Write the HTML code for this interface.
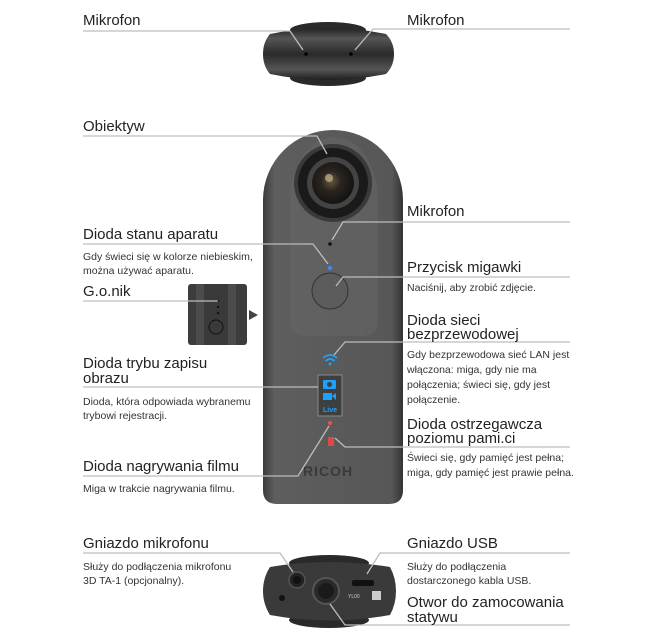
<!DOCTYPE html>
<html><head><meta charset="utf-8"><style>
html,body{margin:0;padding:0;background:#fff;}
svg{display:block;}
.h{font-family:"Liberation Sans",sans-serif;font-size:15px;fill:#222;}
.d{font-family:"Liberation Sans",sans-serif;font-size:10.5px;fill:#333;}
.l{stroke:#bdbdbd;stroke-width:1.3;fill:none;}
</style></head><body>
<svg width="650" height="638" viewBox="0 0 650 638" xmlns="http://www.w3.org/2000/svg">
<defs>
<linearGradient id="body" x1="0" x2="1" y1="0" y2="0">
<stop offset="0" stop-color="#3a3a3a"/><stop offset="0.08" stop-color="#5e5e5e"/><stop offset="0.5" stop-color="#5a5a5a"/><stop offset="0.92" stop-color="#575757"/><stop offset="1" stop-color="#333"/></linearGradient>
<linearGradient id="top" x1="0" x2="0" y1="0" y2="1">
<stop offset="0" stop-color="#222"/><stop offset="0.2" stop-color="#555"/><stop offset="0.5" stop-color="#2a2a2a"/><stop offset="0.8" stop-color="#555"/><stop offset="1" stop-color="#1e1e1e"/></linearGradient>
<radialGradient id="lens" cx="0.45" cy="0.45" r="0.6"><stop offset="0" stop-color="#6a5a40"/><stop offset="0.4" stop-color="#2a2520"/><stop offset="1" stop-color="#111"/></radialGradient>
</defs>

<ellipse cx="328" cy="30" rx="38" ry="8" fill="#2a2a2a"/>
<ellipse cx="328" cy="78" rx="38" ry="8" fill="#2a2a2a"/>
<path d="M270 34 Q328 22 386 34 Q394 42 394 54 Q394 66 386 74 Q328 86 270 74 Q263 66 263 54 Q263 42 270 34Z" fill="url(#top)"/>
<circle cx="306" cy="54" r="1.8" fill="#000"/><circle cx="351" cy="54" r="1.8" fill="#000"/>

<path d="M263 200 A70 70 0 0 1 403 200 L403 490 Q403 504 389 504 L277 504 Q263 504 263 490Z" fill="url(#body)"/>
<path d="M290 200 A42 60 0 0 1 378 200 L378 320 Q378 336 362 336 L306 336 Q290 336 290 320Z" fill="#666" opacity="0.55"/>
<circle cx="333" cy="183" r="39" fill="#3a3a3a"/>
<circle cx="333" cy="183" r="35" fill="#1a1a1a"/>
<circle cx="333" cy="183" r="26" fill="#444"/>
<circle cx="333" cy="183" r="21" fill="url(#lens)"/>
<circle cx="329" cy="178" r="4" fill="#c9b68a" opacity="0.7"/>
<circle cx="330" cy="244" r="1.8" fill="#111"/>
<circle cx="330" cy="268" r="2.2" fill="#2f8fff"/>
<circle cx="330" cy="291" r="18" fill="#5c5c5c" stroke="#333" stroke-width="1"/>
<path d="M323 358 Q330 352 337 358 M325.5 361 Q330 357 334.5 361" stroke="#1da1ff" stroke-width="1.6" fill="none"/>
<circle cx="330" cy="364" r="1.4" fill="#1da1ff"/>
<rect x="318" y="375" width="24" height="41" fill="#3f3f3f" stroke="#888" stroke-width="1"/>
<rect x="323" y="380" width="13" height="9" rx="1" fill="#1da1ff"/><circle cx="329.5" cy="384.5" r="2.5" fill="#3f3f3f"/>
<rect x="323" y="393" width="9" height="7" fill="#1da1ff"/><polygon points="332,396 336,393 336,400" fill="#1da1ff"/>
<text x="330" y="412" text-anchor="middle" font-family="Liberation Sans" font-weight="bold" font-size="7" fill="#1da1ff">Live</text>
<circle cx="330" cy="423" r="2.2" fill="#e45050"/>
<rect x="328" y="437" width="6" height="9" fill="#e04848"/>
<text x="328" y="476" text-anchor="middle" font-family="Liberation Sans" font-weight="bold" font-size="14" fill="#3a3a3a" letter-spacing="1">RICOH</text>

<rect x="188" y="284" width="59" height="61" rx="3" fill="#3c3c3c"/>
<rect x="196" y="284" width="40" height="61" fill="#4c4c4c"/>
<rect x="204" y="284" width="24" height="61" fill="#3a3a3a"/>
<circle cx="218" cy="301" r="1.2" fill="#111"/><circle cx="218" cy="307" r="1.2" fill="#111"/><circle cx="218" cy="313" r="1.2" fill="#111"/>
<circle cx="216" cy="327" r="7" fill="none" stroke="#111" stroke-width="1"/>
<polygon points="249,310 258,315 249,320" fill="#444"/>

<ellipse cx="329" cy="563" rx="40" ry="8" fill="#2a2a2a"/>
<ellipse cx="329" cy="620" rx="40" ry="8" fill="#2a2a2a"/>
<path d="M270 567 Q329 557 390 567 Q396 578 396 591 Q396 604 390 615 Q329 626 270 615 Q263 604 263 591 Q263 578 270 567Z" fill="#3a3a3a"/>
<circle cx="297" cy="580" r="8" fill="#222" stroke="#555" stroke-width="1.5"/><circle cx="297" cy="580" r="4" fill="#111"/>
<circle cx="326" cy="591" r="13" fill="#2a2a2a" stroke="#555" stroke-width="2"/><circle cx="326" cy="591" r="8" fill="#1a1a1a"/>
<rect x="352" y="580" width="22" height="6" rx="2" fill="#111"/>
<circle cx="282" cy="598" r="3" fill="#111"/>
<rect x="372" y="591" width="9" height="9" fill="#ccc"/>
<text x="348" y="598" font-family="Liberation Sans" font-size="5" fill="#ccc">YL00</text>

<path class="l" d="M83 31 H290 L303 50"/>
<path class="l" d="M570 29 H373 L355 50"/>
<path class="l" d="M83 136 H317 L327 154"/>
<path class="l" d="M83 244 H313 L328 264"/>
<path class="l" d="M83 301 H218"/>
<path class="l" d="M83 387 H318"/>
<path class="l" d="M83 476 H298 L329 426"/>
<path class="l" d="M570 222 H343 L332 240"/>
<path class="l" d="M570 277 H343 L336 286"/>
<path class="l" d="M570 342 H345 L334 355"/>
<path class="l" d="M570 447 H345 L335 438"/>
<path class="l" d="M83 553 H280 L293 572"/>
<path class="l" d="M570 553 H380 L367 574"/>
<path class="l" d="M570 625 H345 L330 604"/>

<text class="h" x="83" y="25">Mikrofon</text>
<text class="h" x="407" y="25">Mikrofon</text>
<text class="h" x="83" y="131">Obiektyw</text>
<text class="h" x="83" y="239">Dioda stanu aparatu</text>
<text class="d" x="83" y="260">Gdy świeci się w kolorze niebieskim,</text>
<text class="d" x="83" y="274">można używać aparatu.</text>
<text class="h" x="83" y="296">G.o.nik</text>
<text class="h" x="83" y="368">Dioda trybu zapisu</text>
<text class="h" x="83" y="383">obrazu</text>
<text class="d" x="83" y="405">Dioda, która odpowiada wybranemu</text>
<text class="d" x="83" y="419">trybowi rejestracji.</text>
<text class="h" x="83" y="471">Dioda nagrywania filmu</text>
<text class="d" x="83" y="492">Miga w trakcie nagrywania filmu.</text>
<text class="h" x="407" y="216">Mikrofon</text>
<text class="h" x="407" y="272">Przycisk migawki</text>
<text class="d" x="407" y="291">Naciśnij, aby zrobić zdjęcie.</text>
<text class="h" x="407" y="325">Dioda sieci</text>
<text class="h" x="407" y="339">bezprzewodowej</text>
<text class="d" x="407" y="358">Gdy bezprzewodowa sieć LAN jest</text>
<text class="d" x="407" y="373">włączona: miga, gdy nie ma</text>
<text class="d" x="407" y="388">połączenia; świeci się, gdy jest</text>
<text class="d" x="407" y="403">połączenie.</text>
<text class="h" x="407" y="429">Dioda ostrzegawcza</text>
<text class="h" x="407" y="443">poziomu pami.ci</text>
<text class="d" x="407" y="461">Świeci się, gdy pamięć jest pełna;</text>
<text class="d" x="407" y="476">miga, gdy pamięć jest prawie pełna.</text>
<text class="h" x="83" y="548">Gniazdo mikrofonu</text>
<text class="d" x="83" y="570">Służy do podłączenia mikrofonu</text>
<text class="d" x="83" y="584">3D TA-1 (opcjonalny).</text>
<text class="h" x="407" y="548">Gniazdo USB</text>
<text class="d" x="407" y="570">Służy do podłączenia</text>
<text class="d" x="407" y="584">dostarczonego kabla USB.</text>
<text class="h" x="407" y="607">Otwor do zamocowania</text>
<text class="h" x="407" y="622">statywu</text>
</svg>
</body></html>
